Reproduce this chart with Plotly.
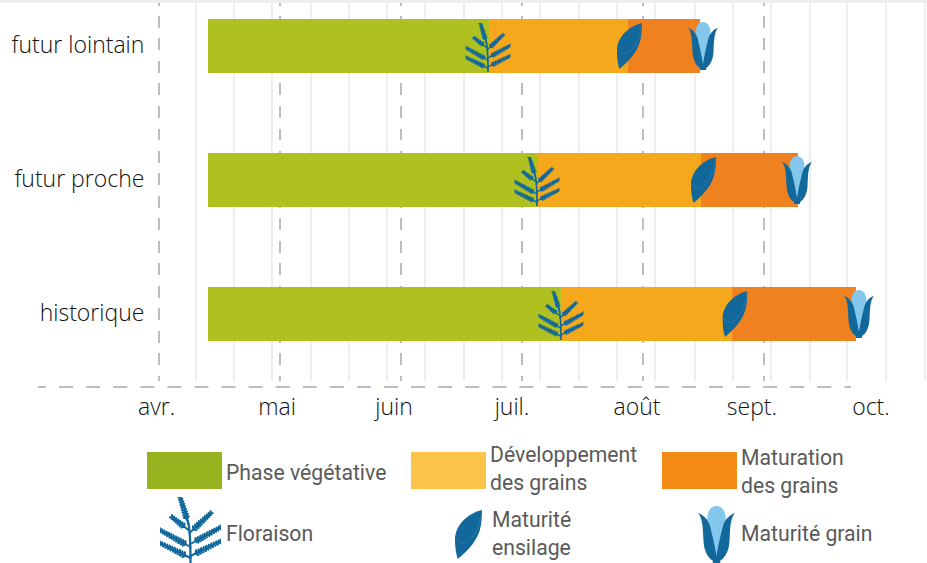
import base64
import math
import plotly.graph_objects as go

# ---- data (x values are in months since 1 April) ----
periods = ["historique", "futur proche", "futur lointain"]
row_index = [0, 1, 2]
sowing = [0.405, 0.405, 0.405]
flowering = [3.322, 3.132, 2.727]
silage_start = [4.736, 4.479, 3.876]
season_end = [5.760, 5.281, 4.471]
flowering_marks = [3.322, 3.124, 2.719]
silage_marks = [4.760, 4.500, 3.888]
grain_marks = [5.785, 5.273, 4.496]

month_values = [0, 1, 2, 3, 4, 5]
month_label_values = [-0.02, 0.975, 1.942, 2.917, 3.95, 4.90, 5.884]
month_labels = ["avr.", "mai", "juin", "juil.", "août", "sept.", "oct."]
minor_grid_values = [0.306, 0.62, 0.935, 1.26, 1.57, 1.884, 2.198, 2.52, 2.835, 3.15, 3.47,
                     3.785, 4.1, 4.43, 4.744, 5.06, 5.38, 5.69, 6.01, 6.33]

colors_bar = ["#AFC120", "#F5A81B", "#F0811F"]
colors_legend = ["#97B420", "#FDC44B", "#F38B15"]
BLUE = "#12679B"
LIGHT = "#84C7EC"
DASH_V = "2.5px,10.5px," + "12px,10.5px," * 17 + "12px"
DASH_H = "8px,13.08px," + "14px,13.08px," * 31 + "14px"

W, H = 927, 563
PX_PER_MONTH, PX_PER_ROW = 121.0, 134.0
X0_PX = 159.0
x_range = [-X0_PX / PX_PER_MONTH, (W - X0_PX) / PX_PER_MONTH]


def uri(svg):
    return "data:image/svg+xml;base64," + base64.b64encode(svg.encode()).decode()


def plant_svg():
    branches = [((28, 33), (11.7, 20)), ((29, 36), (50, 16)), ((30, 50), (0, 33)),
                ((30, 47), (60, 30)), ((30, 61), (0, 46)), ((30, 59), (60, 44)),
                ((28, 27), (20, 1))]
    stem = "M30 66 C30 50 30 36 28 27 C26 18 23 8 20 0"
    d = []
    for (x0, y0), (x1, y1) in branches:
        d.append(f"M{x0} {y0} L{x1} {y1}")
        L = math.hypot(x1 - x0, y1 - y0)
        ux, uy = (x1 - x0) / L, (y1 - y0) / L
        n = int(L / 2.6)
        for i in range(2, n + 1):
            t = i / n
            px, py = x0 + (x1 - x0) * t, y0 + (y1 - y0) * t
            size = 3.2 * (1.1 - t * 0.5)
            for s in (1, -1):
                qx = px + size * (ux * 0.6 - s * uy * 0.8)
                qy = py + size * (uy * 0.6 + s * ux * 0.8)
                d.append(f"M{px:.1f} {py:.1f} L{qx:.1f} {qy:.1f}")
    return (f'<svg xmlns="http://www.w3.org/2000/svg" width="240" height="264" viewBox="0 0 60 66">'
            f'<path d="{stem}" fill="none" stroke="{BLUE}" stroke-width="2.2"/>'
            f'<path d="{" ".join(d)}" fill="none" stroke="{BLUE}" stroke-width="2" stroke-linecap="round"/></svg>')


def leaf_svg():
    return (f'<svg xmlns="http://www.w3.org/2000/svg" width="200" height="368" viewBox="0 0 25 46">'
            f'<path d="M25 0 C12 3 0 14 0 28 C0 35 1 41 2.5 46 C12 38 22 28 24 14 C25 8 25 4 25 0Z" fill="{BLUE}"/>'
            f'<path d="M24.3 1.5 C24 14 16 30 8 31 C5 31 2 29 1 27" fill="none" stroke="#7FB2D0" '
            f'stroke-width="0.35" stroke-dasharray="1 .6"/></svg>')


def corn_svg():
    return (f'<svg xmlns="http://www.w3.org/2000/svg" width="240" height="384" viewBox="0 0 30 48">'
            f'<path d="M15 0 C20 0 22.5 5 22.5 11 L22.5 30 L15 44 L7.5 30 L7.5 11 C7.5 5 10 0 15 0Z" fill="{LIGHT}"/>'
            f'<path d="M0 6 C4 7 8 11 9.5 16 C11 22 13 30 15 42 C17 30 19 22 20.5 16 C22 11 26 7 30 6 '
            f'C26 10 26 20 25.5 30 C25 40 20 45 18 46 L18 48 L12 48 L12 46 C10 45 5 40 4.5 30 C4 20 4 10 0 6Z" fill="{BLUE}"/></svg>')


PLANT, LEAF, CORN = uri(plant_svg()), uri(leaf_svg()), uri(corn_svg())

fig = go.Figure()
stage_names = ["Phase végétative", "Développement des grains", "Maturation des grains"]
bases = [sowing, flowering, silage_start]
ends = [flowering, silage_start, season_end]
for name, b, e, c in zip(stage_names, bases, ends, colors_bar):
    fig.add_trace(go.Bar(y=row_index, x=[q - p for p, q in zip(b, e)], base=b, name=name,
                         orientation="h", width=54 / PX_PER_ROW, marker=dict(color=c, line_width=0),
                         showlegend=False))
# carrier for the month-label axis
fig.add_trace(go.Scatter(x=month_label_values, y=[0] * 7, xaxis="x2", mode="none",
                         showlegend=False, hoverinfo="skip"))

images = []
for r, f, s, g in zip(row_index, flowering_marks, silage_marks, grain_marks):
    for val, src, w, h, dy in [(f, PLANT, 45, 49, 1.5), (s, LEAF, 25, 46, 0), (g, CORN, 30, 48, 0)]:
        images.append(dict(source=src, xref="x", yref="y", x=val,
                           y=r - dy / PX_PER_ROW, sizex=w / PX_PER_MONTH, sizey=h / PX_PER_ROW,
                           xanchor="center", yanchor="middle", sizing="stretch", layer="above"))


def legend_icon(src, x0, x1, y0, y1):
    return dict(source=src, xref="paper", yref="paper", x=x0 / W, y=1 - y0 / H, sizex=(x1 - x0) / W,
                sizey=(y1 - y0) / H, xanchor="left", yanchor="top", sizing="stretch", layer="above")


images += [legend_icon(PLANT, 160, 221, 497, 563), legend_icon(LEAF, 455, 482, 510, 559),
           legend_icon(CORN, 698, 735, 506, 563)]

shapes = [dict(type="rect", xref="paper", yref="paper", x0=0, x1=1, y0=1 - 3 / H, y1=1,
               fillcolor="#EEEEEE", line_width=0, layer="below"),
          dict(type="line", xref="paper", yref="paper", x0=38 / W, x1=851 / W, y0=1 - 387 / H, y1=1 - 387 / H,
               line=dict(color="#BDBDBD", width=2, dash=DASH_H))]
for x0, c in zip([147, 411, 662], colors_legend):
    shapes.append(dict(type="rect", xref="paper", yref="paper", x0=x0 / W, x1=(x0 + 75) / W,
                       y0=1 - 489 / H, y1=1 - 452 / H, fillcolor=c, line_width=0))

legend_texts = [("Phase végétative", 225, 472), ("Développement<br>des grains", 489, 468.5),
                ("Maturation<br>des grains", 740, 471.5), ("Floraison", 225, 533),
                ("Maturité<br>ensilage", 491, 533), ("Maturité grain", 740, 533)]
annotations = [dict(text=t, xref="paper", yref="paper", x=x / W, y=1 - y / H, xanchor="left", yanchor="middle",
                    align="left", showarrow=False, borderpad=0,
                    font=dict(family="Roboto", size=21.2, color="#5A5A5A")) for t, x, y in legend_texts]

fig.update_layout(
    width=W, height=H, margin=dict(l=0, r=0, t=0, b=0), paper_bgcolor="white", plot_bgcolor="white",
    barmode="overlay", showlegend=False, images=images, shapes=shapes, annotations=annotations,
    xaxis=dict(domain=[0, 1], range=x_range, tickmode="array", tickvals=month_values, showticklabels=False,
               showgrid=True, gridcolor="#BDBDBD", gridwidth=2, griddash=DASH_V, zeroline=False,
               ticks="", showline=False,
               minor=dict(tickmode="array", tickvals=minor_grid_values, showgrid=True, gridcolor="#EEEEEE",
                          gridwidth=2, griddash="solid", ticks="")),
    xaxis2=dict(overlaying="x", side="bottom", anchor="y", range=x_range, tickmode="array",
                tickvals=month_label_values, ticktext=month_labels, showgrid=False, zeroline=False,
                showline=False, ticks="outside", ticklen=5, tickcolor="rgba(0,0,0,0)",
                tickfont=dict(family="Open Sans", size=23, color="#111111", weight=300)),
    yaxis=dict(domain=[1 - 381 / H, 1 - 3 / H], range=[-0.5, 311 / PX_PER_ROW], tickmode="array",
               tickvals=row_index, ticktext=periods, anchor="free", position=153 / W, showgrid=False,
               zeroline=False, showline=False, ticks="outside", ticklen=4, tickcolor="rgba(0,0,0,0)",
               ticklabelshift=-1,
               tickfont=dict(family="Open Sans", size=23, color="#111111", weight=300)),
)

fig.write_html("out.html", config={"displayModeBar": False},
               post_script="document.body.style.margin='0';document.documentElement.style.overflow='hidden';")
